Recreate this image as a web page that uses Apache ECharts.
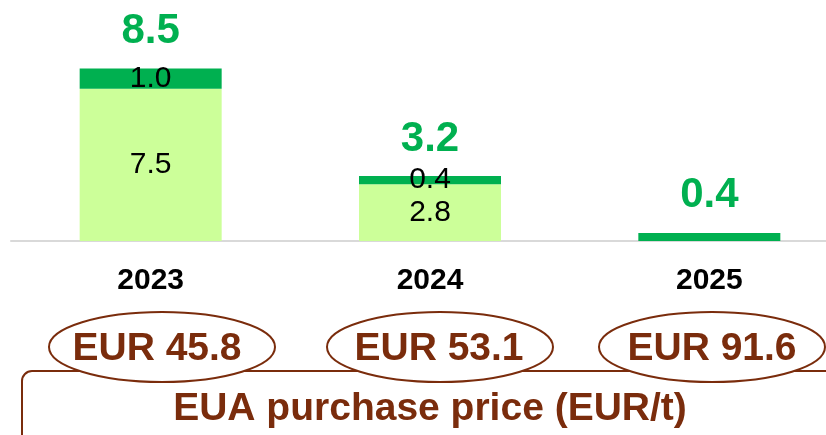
<!DOCTYPE html>
<html>
<head>
<meta charset="utf-8">
<script src="https://cdn.jsdelivr.net/npm/echarts@6/dist/echarts.min.js"></script>
<style>
  html, body { margin: 0; padding: 0; background: #fff; }
  #main { width: 826px; height: 435px; }
</style>
</head>
<body>
<div id="main"></div>
<script>
// values
var years = ['2023', '2024', '2025'];
var baseValues = [7.5, 2.8, 0];     // light green part
var topValues = [1.0, 0.4, 0.4];    // dark green part
var euaPrices = ['45.8', '53.1', '91.6'];

var totals = years.map(function (y, i) {
  return +(baseValues[i] + topValues[i]).toFixed(1);
});

var brown = '#7a2c0c';
var font = "'Liberation Sans', Arial, sans-serif";

var chart = echarts.init(document.getElementById('main'));

// ellipses + price text under the axis
var ellipseX = [162, 440, 712];
var priceTextX = [157, 439, 712];
var graphics = [
  {
    type: 'rect', z: 1,
    shape: { x: 22, y: 371, width: 900, height: 200, r: 10 },
    style: { fill: 'none', stroke: brown, lineWidth: 2 }
  },
  {
    type: 'text', z: 3,
    style: {
      x: 430, y: 409, text: 'EUA purchase price (EUR/t)',
      fill: brown, font: 'bold 39px ' + font,
      textAlign: 'center', textVerticalAlign: 'middle'
    }
  }
];
euaPrices.forEach(function (p, i) {
  graphics.push({
    type: 'ellipse', z: 2,
    shape: { cx: ellipseX[i], cy: 347, rx: 113, ry: 35 },
    style: { fill: '#fff', stroke: brown, lineWidth: 2 }
  });
  graphics.push({
    type: 'text', z: 3,
    style: {
      x: priceTextX[i], y: 349, text: 'EUR ' + p,
      fill: brown, font: 'bold 39px ' + font,
      textAlign: 'center', textVerticalAlign: 'middle'
    }
  });
});

chart.setOption({
  animation: false,
  textStyle: { fontFamily: font },
  grid: { left: 11, top: 38, width: 838, height: 203, outerBoundsMode: 'none' },
  xAxis: {
    type: 'category',
    data: years,
    axisLine: { lineStyle: { color: '#d9d9d9', width: 2 } },
    axisTick: { show: false },
    axisLabel: { color: '#000', fontWeight: 'bold', fontSize: 30, margin: 25 }
  },
  yAxis: {
    type: 'value', min: 0, max: 10, show: false,
    splitLine: { show: false }
  },
  series: [
    {
      name: 'base', type: 'bar', stack: 'a', barWidth: 142,
      data: baseValues,
      itemStyle: { color: '#ccff99' },
      label: {
        show: true, position: 'inside', color: '#000', fontSize: 30,
        formatter: function (p) { return p.value ? p.value.toFixed(1) : ''; }
      }
    },
    {
      name: 'top', type: 'bar', stack: 'a', barWidth: 142,
      data: topValues.map(function (v, i) {
        return { value: v, label: { show: baseValues[i] > 0 } };
      }),
      itemStyle: { color: '#00b050' },
      label: {
        show: true, position: 'inside', color: '#000', fontSize: 30,
        formatter: function (p) { return p.value.toFixed(1); }
      }
    },
    {
      name: 'total', type: 'line', data: totals, clip: false,
      symbol: 'circle', symbolSize: 2, showSymbol: true,
      itemStyle: { color: 'rgba(0,0,0,0)' },
      lineStyle: { color: 'rgba(0,0,0,0)' },
      label: {
        show: true, position: 'top', distance: 15,
        color: '#00b050', fontWeight: 'bold', fontSize: 42,
        formatter: function (p) { return p.value.toFixed(1); }
      },
      z: 5
    }
  ],
  graphic: graphics
});
</script>
</body>
</html>
